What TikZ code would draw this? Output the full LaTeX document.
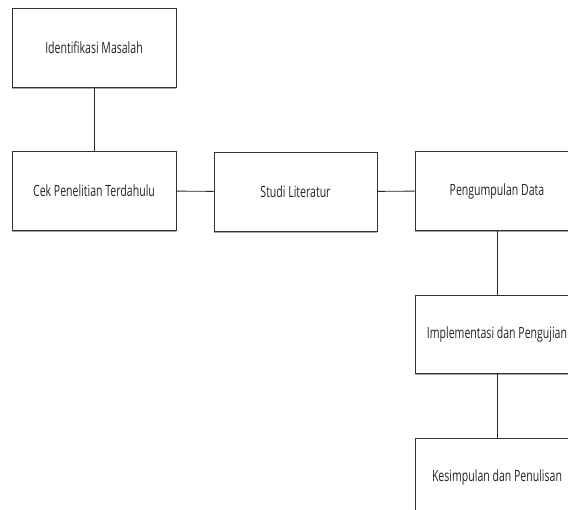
\documentclass[tikz,border=0pt]{standalone}
\usepackage{fontspec}
\setmainfont{Open Sans}[FakeStretch=0.68]
\usetikzlibrary{shadows}
\begin{document}
\begin{tikzpicture}[x=1pt,y=1pt,
  stepbox/.style={draw=black!80, line width=0.95pt, fill=white, minimum width=164pt, minimum height=79pt,
    inner sep=0pt, font=\fontsize{15.5}{17}\selectfont, text=black!85,
    drop shadow={shadow xshift=0pt, shadow yshift=-2pt, fill=black!35, opacity=1}},
  link/.style={draw=black!85, line width=0.95pt}]
\useasboundingbox (0,0) rectangle (568,-510);
\clip (0,0) rectangle (568,-510);
\node[stepbox] (a) at (94,-47.5) {Identifikasi Masalah};
\node[stepbox] (b) at (94,-191) {Cek Penelitian Terdahulu};
\node[stepbox, minimum width=163pt] (c) at (295.5,-191.5) {Studi Literatur};
\node[stepbox] (d) at (497,-191) {Pengumpulan Data};
\node[stepbox, minimum height=78pt] (e) at (497,-334) {Implementasi dan Pengujian};
\node[stepbox] (f) at (497,-477.5) {Kesimpulan dan Penulisan};
\draw[link] (a) -- (b);
\draw[link] (b) -- (c);
\draw[link] (c) -- (d);
\draw[link] (d) -- (e);
\draw[link] (e) -- (f);
\end{tikzpicture}
\end{document}
